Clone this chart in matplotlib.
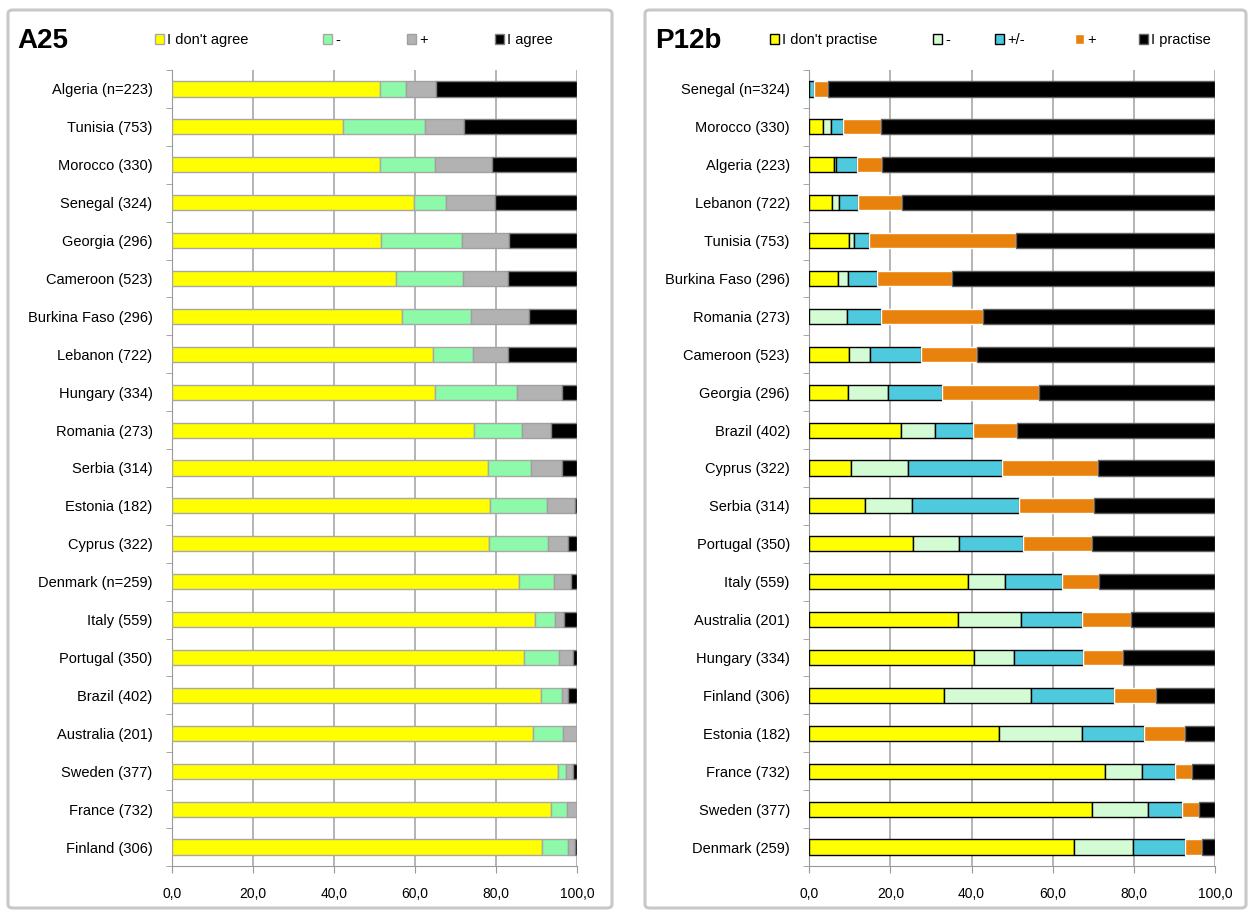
import matplotlib
matplotlib.use("Agg")
import matplotlib.pyplot as plt
from matplotlib.patches import FancyBboxPatch
import numpy as np

# A25 panel
a25_countries = ['Algeria (n=223)', 'Tunisia (753)', 'Morocco (330)', 'Senegal (324)',
                 'Georgia (296)', 'Cameroon (523)', 'Burkina Faso (296)', 'Lebanon (722)',
                 'Hungary (334)', 'Romania (273)', 'Serbia (314)', 'Estonia (182)',
                 'Cyprus (322)', 'Denmark (n=259)', 'Italy (559)', 'Portugal (350)',
                 'Brazil (402)', 'Australia (201)', 'Sweden (377)', 'France (732)',
                 'Finland (306)']
a25_labels = ["I don't agree", '-', '+', 'I agree']
a25_disagree = [51.4, 42.1, 51.4, 59.8, 51.5, 55.2, 56.9, 64.4, 64.9, 74.6, 78.1,
                78.5, 78.3, 85.7, 89.6, 86.9, 91.0, 89.1, 95.4, 93.5, 91.3]
a25_minus = [6.4, 20.4, 13.6, 7.8, 20.0, 16.7, 17.0, 9.8, 20.4, 11.7, 10.5,
             14.0, 14.6, 8.6, 5.0, 8.7, 5.2, 7.4, 2.0, 4.1, 6.6]
a25_plus = [7.4, 9.6, 14.0, 12.2, 11.7, 11.0, 14.3, 8.7, 11.1, 7.4, 7.6,
            7.0, 5.0, 4.1, 2.2, 3.3, 1.7, 3.5, 1.5, 2.4, 1.6]
a25_agree = [34.8, 27.9, 21.0, 20.2, 16.8, 17.1, 11.8, 17.1, 3.6, 6.3, 3.8,
             0.5, 2.1, 1.6, 3.2, 1.1, 2.1, 0.0, 1.1, 0.0, 0.5]

# P12b panel
p12_countries = ['Senegal (n=324)', 'Morocco (330)', 'Algeria (223)', 'Lebanon (722)',
                 'Tunisia (753)', 'Burkina Faso (296)', 'Romania (273)', 'Cameroon (523)',
                 'Georgia (296)', 'Brazil (402)', 'Cyprus (322)', 'Serbia (314)',
                 'Portugal (350)', 'Italy (559)', 'Australia (201)', 'Hungary (334)',
                 'Finland (306)', 'Estonia (182)', 'France (732)', 'Sweden (377)',
                 'Denmark (259)']
p12_labels = ["I don't practise", '-', '+/-', '+', 'I practise']
p12_dont = [0.0, 3.3, 6.2, 5.7, 9.8, 7.0, 0.0, 9.9, 9.6, 22.5, 10.4, 13.7,
            25.6, 39.2, 36.7, 40.6, 33.3, 46.8, 72.9, 69.6, 65.2]
p12_minus = [0.0, 2.0, 0.5, 1.5, 1.1, 2.6, 9.2, 5.1, 9.9, 8.5, 14.0, 11.5,
             11.4, 9.0, 15.6, 9.9, 21.3, 20.5, 9.0, 14.0, 14.5]
p12_pm = [1.2, 2.9, 5.0, 4.9, 3.9, 7.0, 8.5, 12.5, 13.1, 9.3, 23.0, 26.5,
          15.7, 14.2, 15.0, 17.0, 20.5, 15.3, 8.2, 8.3, 12.9]
p12_plus = [3.3, 9.5, 6.3, 10.7, 36.1, 18.5, 25.0, 13.9, 24.1, 10.8, 23.8, 18.5,
            16.9, 9.0, 12.0, 9.7, 10.4, 10.0, 4.2, 4.2, 4.1]
p12_practise = [95.5, 82.3, 82.0, 77.2, 49.1, 64.9, 57.3, 58.6, 43.3, 48.9, 28.8, 29.8,
                30.4, 28.6, 20.7, 22.8, 14.5, 7.4, 5.7, 3.9, 3.3]

plt.rcParams['font.family'] = 'Liberation Sans'

W, H = 1250, 913
fig = plt.figure(figsize=(W / 100, H / 100), dpi=100)

# panel frames (pixel boxes)
for px0, px1 in ((8, 612), (645, 1246)):
    fig.patches.append(FancyBboxPatch((px0 / W, 1 - 908 / H), (px1 - px0) / W, 898 / H,
                                      boxstyle='round,pad=0,rounding_size=0.004',
                                      transform=fig.transFigure, facecolor='none',
                                      edgecolor='#c8c8c8', linewidth=2.2, zorder=0))


def draw_panel(ax, countries, series, labels, colors, edges, title, tx, leg_px):
    n = len(countries)
    y = np.arange(n)
    left = np.zeros(n)
    handles = []
    for vals, lab, c, ec in zip(series, labels, colors, edges):
        b = ax.barh(y, vals, left=left, height=0.4, color=c, edgecolor=ec,
                    linewidth=1.0, label=lab, zorder=3)
        handles.append(b)
        left = left + np.array(vals)
    ax.set_xlim(0, 100)
    ax.set_ylim(n - 0.5, -0.5)
    ax.set_xticks(np.arange(0, 101, 20))
    ax.set_xticklabels([f'{v:.1f}'.replace('.', ',') for v in range(0, 101, 20)],
                       fontsize=10)
    ax.set_yticks(y)
    ax.set_yticklabels(countries, fontsize=10.5)
    ax.set_yticks(np.arange(n + 1) - 0.5, minor=True)
    ax.tick_params(axis='y', which='major', length=0, pad=14)
    ax.tick_params(axis='y', which='minor', length=4, color='#999999')
    ax.tick_params(axis='x', length=5, color='#999999', pad=10)
    ax.grid(axis='x', color='#b4b4b4', linewidth=1.4, zorder=0)
    ax.set_axisbelow(True)
    ax.patch.set_alpha(0)
    for s in ('top', 'right'):
        ax.spines[s].set_visible(False)
    for s in ('left', 'bottom'):
        ax.spines[s].set_color('#999999')
    fig.text(tx / W, 1 - 41 / H, title, fontsize=20, fontweight='bold', va='center')
    # one legend entry per position, as in the original layout
    for i, (h, lab, px) in enumerate(zip(handles, labels, leg_px)):
        leg = ax.legend([h], [lab], loc='center left', bbox_to_anchor=(px / W, 1 - 40 / H),
                        bbox_transform=fig.transFigure, frameon=False, fontsize=10.5,
                        handlelength=0.65, handleheight=0.65, handletextpad=0.2,
                        borderpad=0, borderaxespad=0)
        if i < len(handles) - 1:
            ax.add_artist(leg)


ax1 = fig.add_axes([172 / W, 1 - 866 / H, 405 / W, 796 / H])
draw_panel(ax1, a25_countries, [a25_disagree, a25_minus, a25_plus, a25_agree],
           a25_labels, ['#ffff00', '#8cfaa8', '#b2b2b2', '#000000'],
           ['#a8a8a8', '#a8a8a8', '#a0a0a0', '#808080'], 'A25', 17,
           [155, 323, 407, 495])

ax2 = fig.add_axes([809.3 / W, 1 - 866 / H, 405.7 / W, 796 / H])
draw_panel(ax2, p12_countries, [p12_dont, p12_minus, p12_pm, p12_plus, p12_practise],
           p12_labels, ['#ffff00', '#d4fcd4', '#4ec9dd', '#e9820c', '#000000'],
           ['#000000', '#000000', '#000000', 'white', '#606060'], 'P12b', 655,
           [770, 933, 995, 1075, 1139])

fig.savefig('out.png', dpi=100)
